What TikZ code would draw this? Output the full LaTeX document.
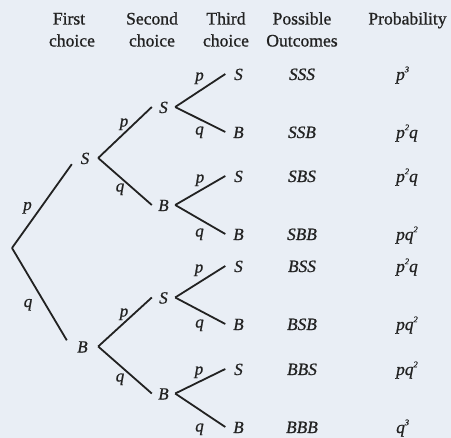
\documentclass[tikz,border=0pt]{standalone}
\usepackage{fontspec}
\setmainfont{Liberation Serif}[FakeBold=0.9]
\definecolor{paper}{RGB}{233,238,245}
\definecolor{ink}{RGB}{34,34,34}
% small raised exponent used in the probability column
\newcommand\expo[1]{\raisebox{.45em}{\fontsize{8.5}{8.5}\selectfont #1}}

\begin{document}
\begin{tikzpicture}[x=1pt,y=-1pt,
  every node/.style={inner sep=0pt, text=ink, font=\fontsize{17}{20}\selectfont},
  head/.style={anchor=base, font=\fontsize{17.6}{20}\selectfont},
  choice/.style={font=\fontsize{17}{20}\selectfont\itshape, text height=12pt,
                 text depth=0pt, minimum width=23pt, anchor=base},
  leaf/.style={choice, minimum width=26pt},
  edgelbl/.style={font=\fontsize{17}{20}\selectfont\itshape, text height=8pt, text depth=4pt},
  outcome/.style={font=\fontsize{17.3}{20}\selectfont\itshape, anchor=base},
  chance/.style={font=\fontsize{17.3}{20}\selectfont\itshape, anchor=base west},
  branch/.style={draw=ink, line width=1.8pt}
]
% canvas
\fill[paper] (0,0) rectangle (451,438);
\useasboundingbox (0,0) rectangle (451,438);

% column headings
\node[head] (h1a) at (69,24.5) {First};
\node[head] (h1b) at (72,46.5) {choice};
\node[head] (h2a) at (152,24.5) {Second};
\node[head] (h2b) at (152,46.5) {choice};
\node[head] (h3a) at (226,24.5) {Third};
\node[head] (h3b) at (226,46.5) {choice};
\node[head] (h4a) at (302,24.5) {Possible};
\node[head] (h4b) at (302,46.5) {Outcomes};
\node[head] (h5)  at (407.5,24.5) {Probability};

% root of the tree
\coordinate (R) at (12,248);

% first choice
\node[choice, minimum width=26pt] (S) at (85,164) {S};
\node[choice, minimum width=31pt] (B) at (82.5,352.5) {B};

% second choice
\node[choice] (SS) at (163.5,113) {S};
\node[choice] (SB) at (163.5,211) {B};
\node[choice] (BS) at (163.5,303.5) {S};
\node[choice] (BB) at (163.5,399.5) {B};

% third choice
\node[leaf] (SSS) at (238.5,80)  {S};
\node[leaf] (SSB) at (238.5,138) {B};
\node[leaf] (SBS) at (238.5,182) {S};
\node[leaf] (SBB) at (238.5,240) {B};
\node[leaf] (BSS) at (238.5,272) {S};
\node[leaf] (BSB) at (238.5,330) {B};
\node[leaf] (BBS) at (238.5,375) {S};
\node[leaf] (BBB) at (238.5,433) {B};

% branches
\draw[branch] (R) -- (S.south west);
\draw[branch] (R) -- (B.north west);
\draw[branch] (S.east) -- (SS.west);
\draw[branch] (S.east) -- (SB.west);
\draw[branch] (B.east) -- (BS.west);
\draw[branch] (B.east) -- (BB.west);
\draw[branch] (SS.east) -- (SSS.west);
\draw[branch] (SS.east) -- (SSB.west);
\draw[branch] (SB.east) -- (SBS.west);
\draw[branch] (SB.east) -- (SBB.west);
\draw[branch] (BS.east) -- (BSS.west);
\draw[branch] (BS.east) -- (BSB.west);
\draw[branch] (BB.east) -- (BBS.west);
\draw[branch] (BB.east) -- (BBB.west);

% branch probabilities
\node[edgelbl] (pS) at (27.5,208) {p};
\node[edgelbl] (qB) at (28,305) {q};
\node[edgelbl] (pSS) at (124,124.5) {p};
\node[edgelbl] (qSB) at (120,189.5) {q};
\node[edgelbl] (pBS) at (124,314.5) {p};
\node[edgelbl] (qBB) at (120,379.5) {q};
\node[edgelbl] (pSSS) at (199.5,78.5) {p};
\node[edgelbl] (qSSB) at (199.5,132.5) {q};
\node[edgelbl] (pSBS) at (200,180.5) {p};
\node[edgelbl] (qSBB) at (199.5,234.5) {q};
\node[edgelbl] (pBSS) at (199,270.5) {p};
\node[edgelbl] (qBSB) at (199.5,325.5) {q};
\node[edgelbl] (pBBS) at (199,372.5) {p};
\node[edgelbl] (qBBB) at (199.5,429.5) {q};

% possible outcomes
\node[outcome] (oSSS) at (302,80)  {SSS};
\node[outcome] (oSSB) at (302,138) {SSB};
\node[outcome] (oSBS) at (302,182) {SBS};
\node[outcome] (oSBB) at (302,240) {SBB};
\node[outcome] (oBSS) at (302,272) {BSS};
\node[outcome] (oBSB) at (302,330) {BSB};
\node[outcome] (oBBS) at (302,375) {BBS};
\node[outcome] (oBBB) at (302,433) {BBB};

% probability of each outcome
\node[chance] (rSSS) at (396,80)  {p\expo{3}};
\node[chance] (rSSB) at (396,138) {p\expo{2}q};
\node[chance] (rSBS) at (396,182) {p\expo{2}q};
\node[chance] (rSBB) at (396,240) {pq\expo{2}};
\node[chance] (rBSS) at (396,272) {p\expo{2}q};
\node[chance] (rBSB) at (396,330) {pq\expo{2}};
\node[chance] (rBBS) at (396,375) {pq\expo{2}};
\node[chance] (rBBB) at (396,433) {q\expo{3}};
\end{tikzpicture}
\end{document}
